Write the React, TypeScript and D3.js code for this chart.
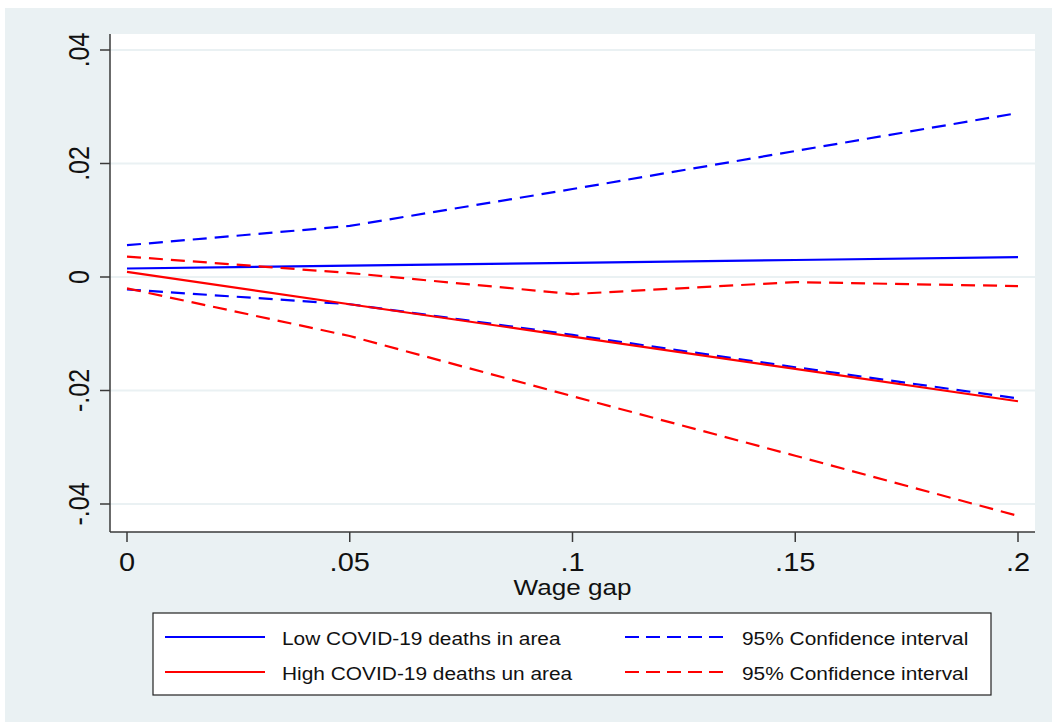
import React from 'react';
import { scaleLinear, line } from 'd3';

// wage gap values (x)
const wageGap = [0, 0.05, 0.1, 0.15, 0.2];
// low COVID-19 deaths
const lowFit = [0.0015, 0.002, 0.0025, 0.003, 0.0035];
const lowUpper = [0.0056, 0.009, 0.0155, 0.0222, 0.0289];
const lowLower = [-0.0022, -0.0048, -0.0102, -0.0159, -0.0214];
// high COVID-19 deaths
const highFit = [0.0009, -0.0048, -0.0105, -0.0162, -0.0219];
const highUpper = [0.0036, 0.0007, -0.003, -0.0009, -0.0016];
const highLower = [-0.002, -0.0104, -0.021, -0.0315, -0.0421];

const xTicks = [0, 0.05, 0.1, 0.15, 0.2];
const xTickLabels = ['0', '.05', '.1', '.15', '.2'];
const yTicks = [-0.04, -0.02, 0, 0.02, 0.04];
const yTickLabels = ['-.04', '-.02', '0', '.02', '.04'];
const xTitle = 'Wage gap';
const legendLabels = [
  'Low COVID-19 deaths in area',
  '95% Confidence interval',
  'High COVID-19 deaths un area',
  '95% Confidence interval',
];

const BLUE = '#0000ff';
const RED = '#ff0000';
const BG = '#eaf1f3';
const AXIS = '#3a3a3a';
const FONT = 'Arial, "Liberation Sans", Helvetica, sans-serif';
const SX = 1.16; // text is a bit wide in the original

function App() {
  const width = 1052,
    height = 722;
  const plot = { left: 110, right: 1035, top: 34, bottom: 532 };

  const xScale = scaleLinear().domain([0, 0.2]).range([127, 1018]);
  const yScale = scaleLinear().domain([-0.04, 0.04]).range([504, 50]);

  const pathFor = (vals: number[]) =>
    line<number>()
      .x((_, i) => xScale(wageGap[i]))
      .y((d) => yScale(d))(vals) as string;

  const series = [
    { vals: lowUpper, color: BLUE, dash: '14,8' },
    { vals: lowLower, color: BLUE, dash: '14,8' },
    { vals: lowFit, color: BLUE, dash: null },
    { vals: highUpper, color: RED, dash: '14,8' },
    { vals: highLower, color: RED, dash: '14,8' },
    { vals: highFit, color: RED, dash: null },
  ];

  const legend = { x: 153, y: 613, w: 838, h: 82 };
  const rows = [637, 672];
  const cols = [
    { lx: 165, tx: 282 },
    { lx: 625, tx: 742 },
  ];
  const legendItems = [
    { label: legendLabels[0], color: BLUE, dash: null, col: 0, row: 0 },
    { label: legendLabels[1], color: BLUE, dash: '14,7', col: 1, row: 0 },
    { label: legendLabels[2], color: RED, dash: null, col: 0, row: 1 },
    { label: legendLabels[3], color: RED, dash: '14,7', col: 1, row: 1 },
  ];

  return (
    <svg
      width={width}
      height={height}
      style={{ position: 'absolute', left: 0, top: 0 }}
      fontFamily={FONT}
    >
      <rect x={0} y={0} width={width} height={height} fill="#ffffff" />
      <rect x={5} y={8} width={width - 5} height={height - 8} fill={BG} />
      <rect
        x={plot.left}
        y={plot.top}
        width={plot.right - plot.left}
        height={plot.bottom - plot.top}
        fill="#ffffff"
      />

      {/* gridlines */}
      {yTicks.map((t) => (
        <line
          key={'g' + t}
          x1={plot.left}
          x2={plot.right}
          y1={yScale(t)}
          y2={yScale(t)}
          stroke={BG}
          strokeWidth={2}
        />
      ))}

      {/* series */}
      {series.map((s, i) => (
        <path
          key={i}
          d={pathFor(s.vals)}
          fill="none"
          stroke={s.color}
          strokeWidth={2.2}
          strokeDasharray={s.dash ?? undefined}
        />
      ))}

      {/* axes */}
      <line x1={plot.left} x2={plot.left} y1={plot.top} y2={plot.bottom} stroke={AXIS} strokeWidth={1.5} />
      <line x1={plot.left} x2={plot.right} y1={plot.bottom} y2={plot.bottom} stroke={AXIS} strokeWidth={1.5} />

      {yTicks.map((t, i) => (
        <g key={'y' + t}>
          <line x1={plot.left - 10} x2={plot.left} y1={yScale(t)} y2={yScale(t)} stroke={AXIS} strokeWidth={1.5} />
          <text
            transform={`translate(89, ${yScale(t)}) scale(${SX},1) rotate(-90)`}
            textAnchor="middle"
            fontSize={25}
            fill="#111"
          >
            {yTickLabels[i]}
          </text>
        </g>
      ))}

      {xTicks.map((t, i) => (
        <g key={'x' + t}>
          <line x1={xScale(t)} x2={xScale(t)} y1={plot.bottom} y2={plot.bottom + 10} stroke={AXIS} strokeWidth={1.5} />
          <text
            transform={`translate(${xScale(t)}, 571) scale(${SX},1)`}
            textAnchor="middle"
            fontSize={25}
            fill="#111"
          >
            {xTickLabels[i]}
          </text>
        </g>
      ))}

      <text
        transform={`translate(${(plot.left + plot.right) / 2}, 595) scale(${SX},1)`}
        textAnchor="middle"
        fontSize={22.5}
        fill="#111"
      >
        {xTitle}
      </text>

      {/* legend */}
      <rect x={legend.x} y={legend.y} width={legend.w} height={legend.h} fill="#ffffff" stroke="#222" strokeWidth={1.2} />
      {legendItems.map((it, i) => (
        <g key={'l' + i}>
          <line
            x1={cols[it.col].lx}
            x2={cols[it.col].lx + 100}
            y1={rows[it.row]}
            y2={rows[it.row]}
            stroke={it.color}
            strokeWidth={2.2}
            strokeDasharray={it.dash ?? undefined}
          />
          <text
            transform={`translate(${cols[it.col].tx}, ${rows[it.row] + 8}) scale(1.13,1)`}
            fontSize={18.5}
            fill="#111"
          >
            {it.label}
          </text>
        </g>
      ))}
    </svg>
  );
}

export default App;
